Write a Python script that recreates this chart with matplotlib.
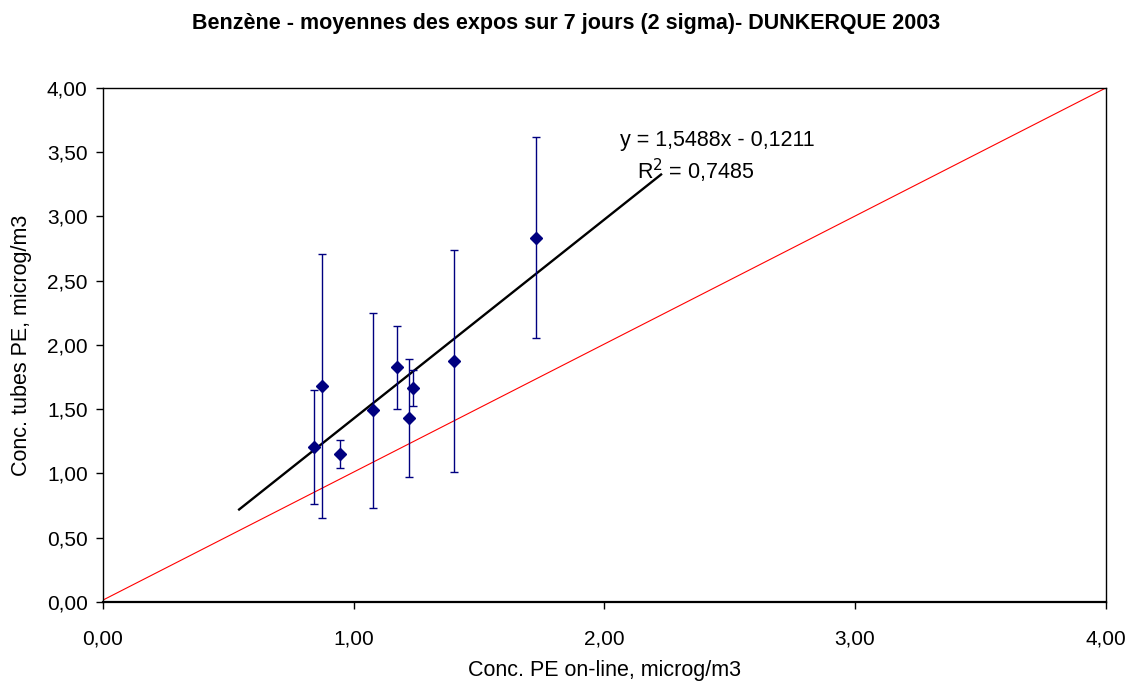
import numpy as np
import matplotlib
matplotlib.use("Agg")
import matplotlib.pyplot as plt
from matplotlib.ticker import FuncFormatter, MultipleLocator

plt.rcParams['font.family'] = ['Liberation Sans', 'DejaVu Sans']

# --- Data ---
conc_online = [0.843, 0.872, 0.944, 1.076, 1.171, 1.222, 1.237, 1.400, 1.726]
conc_tubes = [1.204, 1.683, 1.152, 1.492, 1.825, 1.432, 1.665, 1.875, 2.833]
err_2sigma = [0.442, 1.026, 0.112, 0.758, 0.326, 0.457, 0.143, 0.862, 0.782]

slope = 1.5488
intercept = -0.1211
r2 = 0.7485
trend_back = 0.3      # backward forecast of the Excel trend line
trend_fwd = 0.5       # forward forecast

ref_x = [0.0, 4.0]    # y = x reference line
ref_y = [0.015, 4.0]


def fr_fmt(v, pos):
    return f"{v:.2f}".replace(".", ",")


fig = plt.figure(figsize=(11.33, 6.83), dpi=100)
ax = fig.add_axes([0.0909, 0.1186, 0.976 - 0.0909, 0.8712 - 0.1186])

ax.plot(ref_x, ref_y, color='#ff0000', lw=0.8, zorder=2)

tx = np.array([min(conc_online) - trend_back, max(conc_online) + trend_fwd])
ax.plot(tx, slope * tx + intercept, color='black', lw=1.7, zorder=3)

ax.errorbar(conc_online, conc_tubes, yerr=err_2sigma, fmt='D', color='#000080',
            ecolor='#000080', elinewidth=1.0, capsize=3.2, capthick=1.0,
            markersize=6, zorder=4)

ax.text(2.062, 3.595, f"y = {slope:.4f}x - {abs(intercept):.4f}".replace(".", ","),
        fontsize=15.5, va='center', ha='left')
ax.text(2.13, 3.354, f"R$^2$ = {r2:.4f}".replace(".", ","),
        fontsize=15.5, va='center', ha='left')

ax.set_xlim(0, 4)
ax.set_ylim(0, 4)
ax.xaxis.set_major_locator(MultipleLocator(1.0))
ax.yaxis.set_major_locator(MultipleLocator(0.5))
ax.xaxis.set_major_formatter(FuncFormatter(fr_fmt))
ax.yaxis.set_major_formatter(FuncFormatter(fr_fmt))
ax.tick_params(direction='out', length=5, width=1, labelsize=15, pad=6)
ax.tick_params(axis='x', pad=15)

for s in ax.spines.values():
    s.set_linewidth(1.0)
    s.set_color('black')
ax.spines['bottom'].set_linewidth(1.6)

ax.set_xlabel("Conc. PE on-line, microg/m3", fontsize=15.5, labelpad=8)
ax.set_ylabel("Conc. tubes PE, microg/m3", fontsize=15.5, labelpad=11)

fig.text(0.5, 1 - 24 / 683, "Benzène - moyennes des expos sur 7 jours (2 sigma)- DUNKERQUE 2003",
         ha='center', va='center', fontsize=15.5, fontweight='bold')

fig.savefig("out.png", dpi=100)
